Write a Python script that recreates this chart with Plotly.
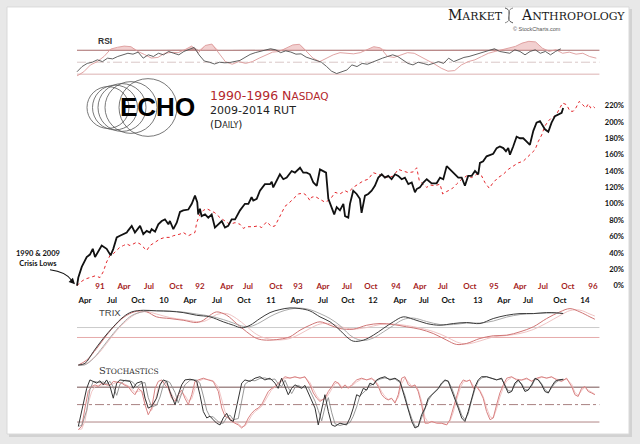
import plotly.graph_objects as go

W, H = 640, 444

# ---------------- DATA (x = trading-week index from the crisis low) ----------------
# 1990-1996 Nasdaq, % gain from Oct-1990 low (red dotted)
ndx_x = [0, 1.6, 4.2, 6.8, 9.5, 12.1, 13.8, 15.6, 17.4, 19.1,
         20.9, 22.6, 24.4, 26.2, 27.9, 29.6, 31.4, 33.2, 34.9, 36.7,
         38.4, 41.1, 43.7, 46.3, 48.9, 50.7, 52.5, 54.2, 55.9, 58.6,
         60.4, 62.1, 63, 64.7, 66.5, 68.3, 70, 72.6, 75.3, 77.9,
         80.5, 83.2, 85.8, 87.5, 89.3, 92.8, 95.4, 97.2, 99.8, 102.5,
         104.2, 106, 107.7, 109.5, 111.2, 113.8, 116.5, 119.1, 120.9, 122.6,
         123.5, 125.3, 127.9, 130.5, 132.3, 134.1, 135.8, 138.4, 141.1, 142.8,
         145.4, 148.1, 150.7, 153.3, 155.9, 158.6, 161.2, 163.8, 166.5, 169.1,
         171.7, 174.4, 177, 178.8, 180.2, 182.3, 184.1, 185.8, 188.4, 191.1,
         192.5, 194.6, 197.2, 199.8, 202.5, 205.1, 207.7, 210.4, 213, 214.7,
         217, 219.1, 221.7, 224.4, 227, 229.6, 232.3, 234.9, 236.7, 239.3,
         241.1, 242.8, 244.6, 246.3, 248.1, 249.8, 251.6, 252.8, 254.2, 255.6,
         257.7, 259.5, 261.2, 262.6, 264.4, 266.2, 267.9, 269.1, 270.4, 271.7,
         272.6]
ndx_pct = [0, 4, 8, 10, 12, 10, 17, 29, 37, 39,
           43, 47, 49, 51, 49, 51, 53, 51, 47, 43,
           49, 53, 57, 59, 59, 61, 62, 63, 65, 61,
           63, 65, 77, 87, 92, 94, 92, 89, 83, 79,
           75, 77, 75, 70, 72, 72, 73, 71, 78, 72,
           73, 81, 89, 97, 100, 106, 112, 113, 110, 104,
           108, 109, 106, 102, 104, 108, 114, 112, 116, 114,
           120, 124, 128, 130, 138, 136, 134, 132, 134, 142,
           140, 138, 139, 144, 128, 124, 120, 123, 122, 124,
           112, 115, 118, 124, 130, 134, 132, 136, 134, 126,
           119, 126, 132, 136, 142, 146, 150, 152, 156, 162,
           166, 176, 184, 195, 201, 205, 207, 211, 217, 223,
           221, 213, 213, 217, 225, 221, 217, 222, 217, 219,
           217]

# 2009-2014 Russell 2000, % gain from Mar-2009 low (black)
rut_x = [0, 0.7, 2.5, 5.1, 6.8, 8.3, 9.5, 11.2, 13, 15.6,
         17.7, 19.1, 20.9, 22.6, 24.4, 26.2, 26.8, 28.8, 30.5, 32.3,
         33.2, 34.9, 36.7, 38.4, 39.3, 41.1, 42.8, 44.6, 46.3, 48.1,
         48.9, 50.7, 52.5, 54.2, 55.9, 58.6, 60.4, 62.1, 63.3, 63.8,
         64.7, 65.6, 67.4, 69.1, 70.9, 72.6, 74.4, 76.2, 77.9, 79.6,
         81.4, 83.2, 85.8, 88.4, 90.2, 91.9, 92.8, 94.6, 96.3, 98.9,
         101.6, 102.5, 103.3, 105.1, 106.8, 108.6, 110.4, 113, 114.7, 117.4,
         119.1, 120.9, 122.6, 124.4, 126.2, 127.9, 129.6, 131.1, 132.3, 134.1,
         135.4, 136.7, 138.4, 140.2, 141.1, 142.8, 143.7, 145.4, 147.2, 148.9,
         149.8, 151.6, 153.3, 155.1, 156.8, 158.6, 160.4, 162.1, 163.8, 165.6,
         167.4, 169.1, 170.9, 172.6, 174.4, 176.2, 177.9, 178.8, 180.5, 182.3,
         184.1, 186.7, 189.3, 191.1, 192.8, 194.6, 197.2, 198.9, 200.7, 202.5,
         204.2, 205.9, 207.7, 209.5, 211.2, 212.1, 213.8, 215.6, 217.4, 219.1,
         220.9, 222.6, 224.4, 225.8, 227, 227.9, 229.6, 231.4, 233.2, 234.9,
         236.7, 238.4, 240.2, 241.9, 243.7, 245.4, 246.3, 248.1, 249.8, 251.6,
         253.3, 255.1, 255.9]
rut_pct = [0, 10, 23, 35, 38, 45, 35, 41, 49, 45,
           37, 45, 59, 61, 63, 65, 67, 73, 65, 71,
           73, 63, 67, 65, 69, 66, 75, 79, 81, 75,
           79, 69, 77, 90, 92, 93, 100, 110, 102, 87,
           94, 85, 87, 83, 87, 71, 75, 79, 71, 73,
           81, 81, 92, 100, 100, 108, 104, 106, 116, 124,
           124, 127, 120, 128, 136, 130, 132, 140, 138, 144,
           138, 138, 136, 126, 122, 142, 140, 138, 106, 96,
           87, 96, 92, 100, 85, 83, 100, 116, 112, 106,
           89, 110, 112, 116, 122, 132, 136, 132, 134, 130,
           136, 134, 130, 132, 124, 126, 114, 118, 120, 126,
           130, 125, 125, 132, 130, 146, 140, 136, 132, 132,
           122, 134, 134, 140, 136, 150, 152, 158, 160, 161,
           168, 170, 168, 164, 168, 160, 170, 182, 180, 180,
           176, 172, 189, 199, 201, 195, 191, 188, 199, 207,
           209, 211, 217]

pct_ticks = [0, 20, 40, 60, 80, 100, 120, 140, 160, 180, 200, 220]

ndx_ticks_x = [12.1, 24.7, 37.9, 52.1, 64.7, 78.9, 90, 104.7, 116.3, 129.5,
               142.1, 154.7, 167.9, 180.5, 192.6, 206.8, 219.5, 233.2, 245.3, 258.4, 271.6]
ndx_ticks = ["91", "Apr", "Jul", "Oct", "92", "Apr", "Jul", "Oct", "93", "Apr",
             "Jul", "Oct", "94", "Apr", "Jul", "Oct", "95", "Apr", "Jul", "Oct", "96"]
rut_ticks_x = [4.2, 18.4, 32.1, 45.8, 59.5, 73.7, 87.9, 102.1, 115.8, 129.5,
               142.6, 155.8, 170, 182.6, 195.3, 211, 224.7, 237.4, 254.2, 267.4]
rut_ticks = ["Apr", "Jul", "Oct", "10", "Apr", "Jul", "Oct", "11", "Apr", "Jul",
             "Oct", "12", "Apr", "Jul", "Oct", "13", "Apr", "Jul", "Oct", "14"]

# RSI (14) sampled on a regular grid
ndx_rsi = [27, 34, 45.5, 51, 59.6, 72, 75, 77, 76, 68,
           63, 57, 58, 65, 66.5, 66, 71, 77, 66, 78,
           80.4, 65, 51, 46.6, 51, 48, 51, 56.8, 62.4, 66.9,
           68, 73.6, 79, 80, 68, 56.8, 51, 56.8, 62.4, 66,
           65, 64, 66, 71, 76, 74, 60, 58, 62, 66,
           65, 59, 54, 47, 40, 35, 36, 45.5, 51, 54,
           59.6, 65, 68, 70.8, 73.6, 76.5, 82, 85, 84, 73.6,
           68, 70.8, 65, 66.9, 63.5, 65, 59.6, 56.8]
rut_rsi = [34, 42.7, 48, 50, 54, 51, 56.8, 55.6, 59.6, 62.4,
           65, 63.5, 66.9, 56.8, 62.4, 59.6, 65, 62.4, 68, 65,
           62.4, 68, 70.8, 74.8, 62, 52, 50, 47, 50, 49,
           49.5, 51, 53, 58, 63, 66, 68, 70.8, 72.5, 70.8,
           66, 69, 67, 63.5, 64, 58.5, 56, 53, 50, 43,
           35, 31, 34, 37, 45.5, 42.7, 48, 46.6, 50, 54,
           56.8, 59.6, 62.4, 59.6, 54, 48, 45.5, 50, 48, 45.5,
           48, 51, 48, 56.8, 51, 54, 58, 59.6, 62.4, 65,
           68, 70.8, 72.5, 68, 66.9, 65, 70.8, 68, 62.4, 68,
           70.8, 65, 68, 62.4, 68, 72.5]
ndx_rsi_step = 3.55
rut_rsi_step = 2.68

# TRIX and signal
rut_trix_x = [0.7, 4.2, 8.6, 13.8, 19.1, 24.4, 28.8, 34.9, 41.9, 48.9,
              55.9, 63, 70, 77, 82.3, 86.7, 91.1, 96.3, 101.6, 106.8,
              112.1, 117.4, 122.6, 127.9, 133.2, 138.4, 141.9, 145.4, 150.7, 156,
              161.2, 166.5, 171.7, 177, 184.1, 191.1, 198.1, 205.1, 212.1, 219.1,
              226.2, 233.2, 240.2, 247.2, 252.5, 255.9]
rut_trix = [-2.77, -2.6, -1.43, -0.1, 1.07, 2.07, 2.57, 2.73, 2.67, 2.63,
            2.5, 2.23, 2.07, 1.57, 1.23, 0.97, 1.23, 1.9, 2.5, 2.8,
            2.97, 2.9, 2.67, 2.07, 1.57, 0.73, 0.07, -0.37, -0.27, 0.23,
            0.9, 1.57, 2.07, 1.83, 1.4, 1.23, 1.4, 1.5, 1.4, 1.9,
            2.23, 2.4, 2.4, 2.5, 2.47, 2.4]
rut_trix_sig = [-2.77, -2.75, -2.1, -0.9, 0.4, 1.5, 2.2, 2.6, 2.7, 2.65,
                2.55, 2.35, 2.15, 1.8, 1.45, 1.15, 1.1, 1.5, 2.1, 2.55,
                2.85, 2.95, 2.8, 2.4, 1.9, 1.2, 0.55, 0.0, -0.3, -0.05,
                0.55, 1.2, 1.8, 1.95, 1.6, 1.3, 1.3, 1.45, 1.45, 1.65,
                2.05, 2.3, 2.4, 2.45, 2.47, 2.42]
ndx_trix_x = [0.7, 5.1, 10.4, 15.6, 20.9, 26.2, 31.4, 36.7, 41.9, 48.9,
              55.9, 63, 66.5, 70, 73.5, 78.8, 84, 89.3, 94.6, 99.8,
              106.8, 112.1, 117.4, 122.6, 127.9, 133.2, 138.4, 145.4, 152.5, 159.5,
              166.5, 173.5, 180.5, 187.5, 194.6, 199.8, 205.1, 212.1, 219.1, 226.2,
              233.2, 240.2, 247.2, 254.2, 259.5, 264.7, 270, 272.6]
ndx_trix = [-2.77, -2.27, -1.1, 0.23, 1.4, 2.23, 2.63, 2.57, 2.07, 1.9,
            1.73, 1.5, 1.73, 2.23, 2.57, 2.23, 1.4, 0.57, -0.1, -0.27,
            -0.17, 0.07, 0.73, 1.23, 1.57, 1.23, 0.9, 0.83, 1.23, 1.4,
            1.3, 1.07, 0.83, 0.4, -0.27, -0.7, -0.6, -0.1, 0.17, 0.23,
            0.57, 1.07, 1.9, 2.57, 2.9, 2.57, 2.07, 1.83]
ndx_trix_sig = [-2.8, -2.6, -1.8, -0.6, 0.7, 1.7, 2.4, 2.6, 2.35, 2.0,
                1.8, 1.6, 1.6, 1.9, 2.3, 2.4, 1.9, 1.1, 0.3, -0.1,
                -0.25, -0.1, 0.35, 0.9, 1.35, 1.4, 1.1, 0.85, 1.0, 1.3,
                1.35, 1.2, 0.95, 0.6, 0.05, -0.45, -0.65, -0.35, 0.05, 0.2,
                0.4, 0.8, 1.45, 2.2, 2.7, 2.75, 2.35, 2.15]

# Stochastics %K and %D
rut_sto_x = [0.7, 2.5, 5.1, 6.8, 8.6, 10.4, 12.1, 13.8, 15.6, 17.4,
             19.1, 20.9, 22.6, 25.3, 27.9, 29.6, 31.4, 34.1, 35.8, 37.5,
             39.3, 41.9, 43.7, 45.4, 47.2, 48.9, 51.6, 53.3, 55.1, 56.8,
             59.5, 61.2, 63, 64.7, 66.5, 68.3, 70, 71.7, 73.5, 75.3,
             77, 78.8, 80.5, 82.3, 84.9, 86.7, 88.4, 91.1, 93.7, 96.3,
             98.9, 101.6, 104.2, 105.9, 107.7, 109.5, 111.2, 113, 114.7, 116.5,
             118.3, 120, 121.7, 123.5, 125.3, 127, 128.8, 130.5, 132.3, 134.1,
             135.8, 138.4, 141.9, 143.7, 145.4, 147.2, 148.9, 150.7, 152.5, 154.2,
             156, 157.7, 159.5, 162.1, 164.7, 167.4, 170, 172.6, 174.4, 176.2,
             177.9, 179.6, 181.4, 183.2, 184.9, 186.7, 188.4, 190.2, 191.9, 193.7,
             195.4, 197.2, 198.9, 200.7, 202.5, 204.2, 205.9, 207.7, 209.5, 211.2,
             213, 215.6, 218.3, 220.9, 223.5, 225.3, 227, 228.8, 230.5, 232.3,
             234.1, 235.8, 237.5, 239.3, 241.1, 242.8, 244.6, 246.3, 248.1, 249.8,
             251.6, 253.3, 256]
rut_sto_k = [12.6, 38, 78, 92.5, 90, 87, 91, 84, 92.5, 81,
             61, 87, 92.5, 91, 90, 78, 87, 90, 61, 44,
             47, 61, 84, 92.5, 90, 72.6, 50, 67, 84, 92.5,
             93.7, 92.5, 90, 67, 38, 27, 30, 24, 18, 15,
             27, 35, 24, 21, 61, 87, 92.5, 90, 95.5, 98,
             92.5, 95.5, 87, 78, 95.5, 81, 67, 78, 84, 81,
             78, 83, 70, 58, 44, 15, 44, 67, 38, 15,
             12.6, 18, 15, 27, 44, 67, 64, 78, 75, 87,
             84, 92.5, 95.5, 98, 92.5, 95.5, 90, 61, 38, 21,
             9.7, 12.6, 32.5, 44, 61, 67, 72.6, 78, 87, 92.5,
             90, 75, 61, 44, 27, 21, 38, 61, 81, 92.5,
             98, 98, 95.5, 92.5, 95.5, 81, 70, 72.6, 87, 92.5,
             84, 72.6, 75, 84, 95.5, 92.5, 84, 72.6, 70, 81,
             90, 92.5, 93.7]
rut_sto_d = [12.6, 14, 40, 76, 90, 89, 88, 89, 86, 90,
             80, 66, 85, 92, 91, 88, 80, 87, 88, 62,
             46, 49, 63, 83, 91, 88, 71, 53, 68, 84,
             92, 93, 92, 87, 65, 40, 29, 29, 23, 18,
             18, 28, 32, 24, 26, 60, 85, 92, 91, 95,
             96, 93, 94, 86, 81, 92, 79, 69, 79, 83,
             80, 79, 80, 68, 56, 40, 22, 45, 62, 36,
             17, 14, 18, 19, 30, 46, 65, 70, 76, 83,
             85, 91, 94, 96, 94, 94, 88, 66, 43, 26,
             13, 12, 28, 42, 57, 66, 71, 77, 85, 91,
             91, 79, 64, 48, 32, 24, 34, 57, 77, 90,
             96, 98, 96, 93, 94, 84, 74, 73, 84, 91,
             86, 76, 75, 82, 93, 93, 86, 76, 71, 79,
             87, 91, 93]
ndx_sto_x = [0.7, 2.5, 4.2, 5.9, 7.7, 9.5, 11.2, 13, 15.6, 17.4,
             19.1, 21.7, 23.5, 25.3, 27, 28.8, 30.5, 32.3, 34.1, 35.8,
             37.5, 39.3, 41.1, 42.8, 44.6, 46.3, 48.1, 49.8, 51.6, 53.3,
             55.1, 56.8, 58.6, 60.4, 62.1, 63.8, 66.5, 69.1, 71.7, 74.4,
             76.2, 77.9, 79.6, 81.4, 83.2, 84.9, 86.7, 88.4, 90.2, 91.9,
             93.7, 95.4, 97.2, 98.9, 100.7, 102.5, 104.2, 106.8, 109.5, 112.1,
             114.7, 117.4, 120, 122.6, 124.4, 126.2, 127.9, 130.5, 132.3, 134.1,
             135.8, 137.5, 139.3, 141.1, 142.8, 144.6, 147.2, 149.8, 152.5, 155.1,
             156.8, 158.6, 160.4, 162.1, 163.8, 165.6, 167.4, 169.1, 170.9, 172.6,
             174.4, 176.2, 177.9, 179.6, 181.4, 183.2, 184.9, 186.7, 189.3, 191.9,
             194.6, 196.3, 198.1, 199.8, 201.6, 203.3, 205.1, 206.8, 208.6, 210.4,
             212.1, 213.8, 215.6, 217.4, 219.1, 220.9, 222.6, 224.4, 226.2, 228.8,
             231.4, 234.1, 236.7, 239.3, 242, 244.6, 247.2, 249.8, 252.5, 255.1,
             257.7, 260.4, 262.1, 263.8, 265.6, 267.4, 269.1, 270.9, 272.6]
ndx_sto_k = [7, 12.6, 44, 72.6, 81, 84, 81, 87, 84, 83,
             90, 88.6, 87, 83, 81, 72.6, 67, 78, 72.6, 50,
             32.5, 44, 78, 90, 92.5, 84, 78, 61, 55.5, 67,
             75, 61, 50, 67, 90, 92.5, 95.5, 92.5, 90, 72.6,
             44, 30, 27, 21, 18, 15, 9.7, 15, 27, 35,
             41, 44, 50, 61, 72.6, 78, 81, 90, 98, 95.5,
             98, 95.5, 98, 84, 70, 61, 55.5, 61, 72.6, 81,
             90, 87, 78, 84, 78, 84, 92.5, 95.5, 92.5, 95.5,
             90, 81, 67, 61, 58, 61, 52.5, 67, 95.5, 98,
             84, 81, 84, 72.6, 50, 18, 18, 21, 18, 18,
             15, 24, 44, 67, 84, 92.5, 90, 92.5, 78, 81,
             72.6, 61, 38, 24, 27, 50, 70, 84, 95.5, 98,
             92.5, 92.5, 95.5, 90, 95.5, 98, 95.5, 98, 92.5, 90,
             95.5, 81, 67, 64, 78, 81, 72.6, 70, 67]
ndx_sto_d = [7, 8, 22, 52, 72, 81, 83, 84, 85, 84,
             86, 89, 88, 85, 82, 77, 71, 73, 74, 62,
             44, 40, 56, 79, 90, 89, 81, 68, 59, 62,
             70, 66, 56, 60, 78, 90, 94, 93, 91, 80,
             58, 38, 29, 24, 20, 17, 12, 13, 21, 31,
             38, 42, 47, 56, 67, 76, 80, 87, 95, 96,
             97, 96, 97, 88, 76, 65, 58, 59, 67, 77,
             86, 88, 81, 82, 80, 82, 89, 94, 93, 94,
             92, 84, 72, 64, 59, 60, 55, 62, 86, 96,
             89, 82, 83, 76, 56, 28, 19, 20, 19, 18,
             16, 21, 37, 58, 77, 89, 90, 92, 82, 80,
             75, 64, 45, 29, 27, 43, 63, 79, 91, 97,
             94, 92, 94, 91, 94, 97, 96, 97, 94, 91,
             94, 85, 71, 66, 74, 80, 75, 71, 68]


# ---------------- helpers for decorative layout positions ----------------
def px(x):
    return x / W


def py(y):
    return 1 - y / H


XDOM = [px(74), px(600)]
XR = [-1.58, 275.3]
RED = "#e3262b"
TICKRED = "#a51c22"

fig = go.Figure()

# --- RSI panel ---
ndx_rsi_x = [round(ndx_rsi_step * i, 2) for i in range(len(ndx_rsi))]
rut_rsi_x = [round(rut_rsi_step * i, 2) for i in range(len(rut_rsi))]
fig.add_trace(go.Scatter(x=ndx_rsi_x, y=[70] * len(ndx_rsi), xaxis="x2", yaxis="y2",
                         mode="lines", line=dict(width=0), hoverinfo="skip"))
fig.add_trace(go.Scatter(x=ndx_rsi_x, y=[max(v, 70) for v in ndx_rsi], xaxis="x2", yaxis="y2",
                         mode="lines", line=dict(width=0), fill="tonexty",
                         fillcolor="rgba(226,150,150,0.45)", hoverinfo="skip"))
fig.add_trace(go.Scatter(x=rut_rsi_x, y=[70] * len(rut_rsi), xaxis="x2", yaxis="y2",
                         mode="lines", line=dict(width=0), hoverinfo="skip"))
fig.add_trace(go.Scatter(x=rut_rsi_x, y=[max(v, 70) for v in rut_rsi], xaxis="x2", yaxis="y2",
                         mode="lines", line=dict(width=0), fill="tonexty",
                         fillcolor="rgba(140,90,90,0.45)", hoverinfo="skip"))
fig.add_trace(go.Scatter(x=ndx_rsi_x, y=ndx_rsi, xaxis="x2", yaxis="y2", mode="lines",
                         line=dict(color="#dd9a9a", width=0.9)))
fig.add_trace(go.Scatter(x=rut_rsi_x, y=rut_rsi, xaxis="x2", yaxis="y2", mode="lines",
                         line=dict(color="#505050", width=0.9)))

# --- Main panel ---
fig.add_trace(go.Scatter(x=ndx_x, y=ndx_pct, xaxis="x", yaxis="y", mode="lines",
                         line=dict(color=RED, width=1.0, dash="dot"), name="1990-1996 Nasdaq"))
fig.add_trace(go.Scatter(x=rut_x, y=rut_pct, xaxis="x5", yaxis="y", mode="lines",
                         line=dict(color="#111111", width=1.8), name="2009-2014 RUT"))

# --- TRIX panel ---
fig.add_trace(go.Scatter(x=ndx_trix_x, y=ndx_trix_sig, xaxis="x3", yaxis="y3", mode="lines",
                         line=dict(color="#edbcbc", width=0.9, shape="spline")))
fig.add_trace(go.Scatter(x=ndx_trix_x, y=ndx_trix, xaxis="x3", yaxis="y3", mode="lines",
                         line=dict(color="#cf7575", width=1, shape="spline")))
fig.add_trace(go.Scatter(x=rut_trix_x, y=rut_trix_sig, xaxis="x3", yaxis="y3", mode="lines",
                         line=dict(color="#a0a0a0", width=0.9, shape="spline")))
fig.add_trace(go.Scatter(x=rut_trix_x, y=rut_trix, xaxis="x3", yaxis="y3", mode="lines",
                         line=dict(color="#3c3c3c", width=1, shape="spline")))

# --- Stochastics panel ---
fig.add_trace(go.Scatter(x=ndx_sto_x, y=ndx_sto_d, xaxis="x4", yaxis="y4", mode="lines",
                         line=dict(color="#efc0c0", width=0.9)))
fig.add_trace(go.Scatter(x=ndx_sto_x, y=ndx_sto_k, xaxis="x4", yaxis="y4", mode="lines",
                         line=dict(color="#d88282", width=1)))
fig.add_trace(go.Scatter(x=rut_sto_x, y=rut_sto_d, xaxis="x4", yaxis="y4", mode="lines",
                         line=dict(color="#8c8c8c", width=0.9)))
fig.add_trace(go.Scatter(x=rut_sto_x, y=rut_sto_k, xaxis="x4", yaxis="y4", mode="lines",
                         line=dict(color="#333333", width=1)))

tickfont_red = dict(family="Lato", size=8, color=TICKRED, weight="bold")
tickfont_blk = dict(family="Lato", size=8, color="#111111", weight="bold")
hidden = dict(visible=False, showgrid=False, zeroline=False)

fig.update_layout(
    width=W, height=H, margin=dict(l=0, r=0, t=0, b=0),
    paper_bgcolor="#e8e8e8", plot_bgcolor="rgba(0,0,0,0)", showlegend=False,
    xaxis=dict(domain=XDOM, range=XR, anchor="free", position=py(281), side="bottom",
               tickmode="array", tickvals=ndx_ticks_x, ticktext=ndx_ticks, tickfont=tickfont_red,
               showgrid=False, zeroline=False, showline=False, ticks=""),
    xaxis5=dict(domain=XDOM, range=XR, overlaying="x", anchor="free", position=py(295), side="bottom",
                tickmode="array", tickvals=rut_ticks_x, ticktext=rut_ticks, tickfont=tickfont_blk,
                showgrid=False, zeroline=False, showline=False, ticks=""),
    yaxis=dict(domain=[py(290), py(98)], range=[-3.65, 229.7], anchor="free", position=px(624),
               side="left", tickmode="array", tickvals=pct_ticks,
               ticktext=[f"{v}%" for v in pct_ticks], tickfont=dict(family="Lato", size=7.5,
                                                                     color="#111111", weight="bold"),
               showgrid=False, zeroline=False, showline=False, ticks=""),
    xaxis2=dict(domain=XDOM, range=XR, anchor="y2", **hidden),
    yaxis2=dict(domain=[py(76.9), py(38.5)], range=[26, 90], anchor="x2", **hidden),
    xaxis3=dict(domain=XDOM, range=XR, anchor="y3", **hidden),
    yaxis3=dict(domain=[py(369), py(306)], range=[-3.0, 3.3], anchor="x3", **hidden),
    xaxis4=dict(domain=XDOM, range=XR, anchor="y4", **hidden),
    yaxis4=dict(domain=[py(435.6), py(376.1)], range=[0, 102], anchor="x4", **hidden),
)

shapes = []
# card + shadow
shapes.append(dict(type="rect", xref="paper", yref="paper", x0=px(9), x1=px(632), y0=py(439), y1=py(9),
                   fillcolor="#d2d2d2", line=dict(width=0), layer="below"))
shapes.append(dict(type="rect", xref="paper", yref="paper", x0=px(7), x1=px(629), y0=py(436), y1=py(7),
                   fillcolor="#ffffff", line=dict(color="#d9d9d9", width=1), layer="below"))
# RSI guide lines
shapes.append(dict(type="line", xref="x2", yref="y2", x0=0, x1=275, y0=70, y1=70,
                   line=dict(color="#a86c6c", width=1.1), layer="below"))
shapes.append(dict(type="line", xref="x2", yref="y2", x0=0, x1=275, y0=50, y1=50,
                   line=dict(color="#d4c0c0", width=0.9, dash="dashdot"), layer="below"))
shapes.append(dict(type="line", xref="x2", yref="y2", x0=0, x1=275, y0=30, y1=30,
                   line=dict(color="#dcb2b2", width=1), layer="below"))
# TRIX guide lines
shapes.append(dict(type="line", xref="x3", yref="y3", x0=0, x1=275, y0=1, y1=1,
                   line=dict(color="#cccccc", width=1), layer="below"))
shapes.append(dict(type="line", xref="x3", yref="y3", x0=0, x1=275, y0=0, y1=0,
                   line=dict(color="#e6aaaa", width=1), layer="below"))
# Stochastics guide lines
shapes.append(dict(type="line", xref="x4", yref="y4", x0=0, x1=275, y0=80, y1=80,
                   line=dict(color="#a48c8c", width=1.4), layer="below"))
shapes.append(dict(type="line", xref="x4", yref="y4", x0=0, x1=275, y0=50, y1=50,
                   line=dict(color="#a88080", width=1, dash="dashdot"), layer="below"))
shapes.append(dict(type="line", xref="x4", yref="y4", x0=0, x1=275, y0=20, y1=20,
                   line=dict(color="#b08686", width=1), layer="below"))
# ECHO circles
for cx, r in [(108, 21), (115, 22.5), (122, 24), (131, 26), (148, 29)]:
    shapes.append(dict(type="circle", xref="paper", yref="paper",
                       x0=px(cx - r), x1=px(cx + r), y0=py(108 + r), y1=py(108 - r),
                       line=dict(color="#555555", width=0.8)))
# DNA glyph in header
shapes.append(dict(type="path", xref="paper", yref="paper",
                   path=f"M {px(505)},{py(8)} C {px(516)},{py(12)} {px(502)},{py(19)} {px(513)},{py(23)}",
                   line=dict(color="#555555", width=1)))
shapes.append(dict(type="path", xref="paper", yref="paper",
                   path=f"M {px(513)},{py(8)} C {px(502)},{py(12)} {px(516)},{py(19)} {px(505)},{py(23)}",
                   line=dict(color="#888888", width=1)))
# crisis arrow curve
shapes.append(dict(type="path", xref="paper", yref="paper",
                   path=f"M {px(50)},{py(271)} Q {px(66)},{py(273)} {px(72)},{py(282)}",
                   line=dict(color="#111111", width=1.1)))
fig.update_layout(shapes=shapes)

ann = []


def text(x, y, t, size, color="#111111", family="DejaVu Sans", xanchor="left"):
    ann.append(dict(xref="paper", yref="paper", x=px(x), y=py(y), text=t, showarrow=False,
                    xanchor=xanchor, yanchor="middle", font=dict(family=family, size=size, color=color)))


text(446, 15, "<span style='font-size:14px'>M</span>ARKET", 11, "#1a1a1a", "DejaVu Serif")
text(519, 15, "<span style='font-size:14px'>A</span>NTHROPOLOGY", 11, "#1a1a1a", "DejaVu Serif")
text(537, 29, "© StockCharts.com", 5.5, "#555555", "Liberation Sans", "center")
text(105, 41, "<b>RSI</b>", 8.5, "#333333", "Liberation Sans", "center")
text(109.5, 314, "TRIX", 9.5, "#444444", "Liberation Sans", "center")
text(97, 372, "<span style='font-size:10px'>S</span>TOCHASTICS", 7.5, "#333333", "DejaVu Serif")
text(157, 107, "<b>ECHO</b>", 26, "#000000", "Liberation Sans", "center")
text(208, 96, "1990-1996 N<span style='font-size:10.5px'>ASDAQ</span>", 12.5, "#b3282d")
text(208, 111, "2009-2014 RUT", 11, "#222222")
text(208, 125, "(D<span style='font-size:8px'>AILY</span>)", 10.5, "#222222")
text(38, 259.5, "<b>1990 &amp; 2009<br>Crisis Lows</b>", 7.5, "#111111", "Lato", "center")
ann.append(dict(xref="paper", yref="paper", x=px(75), y=py(285.5), ax=-5, ay=-5, text="",
                showarrow=True, arrowhead=2, arrowsize=1, arrowwidth=1.2, arrowcolor="#111111"))
fig.update_layout(annotations=ann)

fig.write_html("out.html", config={"displayModeBar": False},
               post_script="document.body.style.margin='0';")
